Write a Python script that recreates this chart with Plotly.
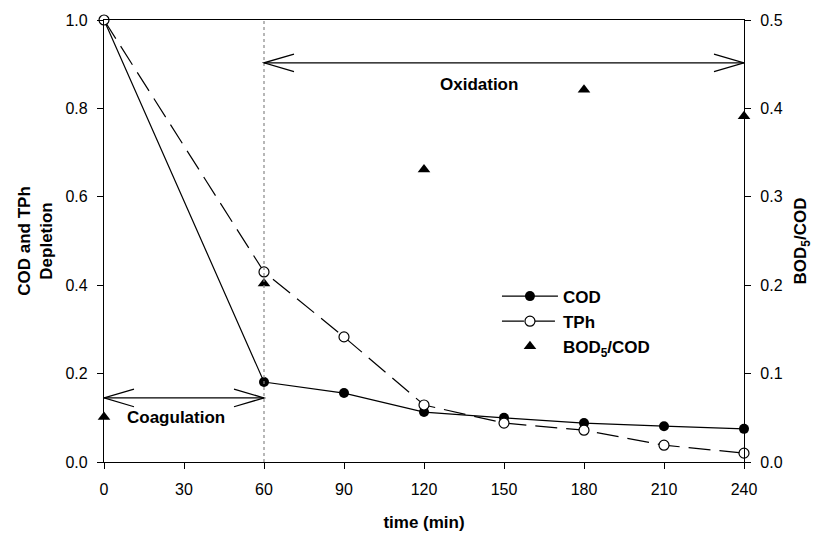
import plotly.graph_objects as go

time_min = [0, 60, 90, 120, 150, 180, 210, 240]
cod = [1.0, 0.181, 0.156, 0.113, 0.100, 0.088, 0.081, 0.075]
tph = [1.0, 0.430, 0.283, 0.129, 0.088, 0.072, 0.038, 0.020]
bod_time = [0, 60, 120, 180, 240]
bod_cod = [0.051, 0.202, 0.331, 0.421, 0.391]

x_ticks = [0, 30, 60, 90, 120, 150, 180, 210, 240]
y_ticks = [0.0, 0.2, 0.4, 0.6, 0.8, 1.0]
y2_ticks = [0.0, 0.1, 0.2, 0.3, 0.4, 0.5]

phase_boundary = 60
coag_span = [0, 60]
coag_level = 0.145
oxid_span = [60, 240]
oxid_level = 0.903

FONT = "Liberation Sans, Arial, sans-serif"
TICK_SIZE = 16
BOLD_SIZE = 17

fig = go.Figure()
fig.add_trace(go.Scatter(
    x=time_min, y=cod, name="<b>COD</b>", mode="lines+markers",
    line=dict(color="black", width=1.2),
    marker=dict(symbol="circle", size=10, color="black"),
    cliponaxis=False))
fig.add_trace(go.Scatter(
    x=time_min, y=tph, name="<b>TPh</b>", mode="lines+markers",
    line=dict(color="black", width=1.2, dash="22px,9px"),
    marker=dict(symbol="circle", size=10, color="white",
                line=dict(color="black", width=1.2)),
    cliponaxis=False))
fig.add_trace(go.Scatter(
    x=bod_time, y=bod_cod, name="<b>BOD<sub>5</sub>/COD</b>", mode="markers",
    marker=dict(symbol="triangle-up", size=11, color="black"),
    yaxis="y2", cliponaxis=False))

shapes = [dict(type="line", xref="x", yref="y", x0=phase_boundary, x1=phase_boundary,
               y0=0, y1=1, line=dict(color="#888888", width=1.2, dash="dot"))]

head_dx = 11.25  # minutes (about 30 px)
head_dy = 0.02


def double_arrow(span, level):
    a, b = span
    style = dict(color="black", width=1.3)
    return [
        dict(type="line", xref="x", yref="y", x0=a, x1=b, y0=level, y1=level, line=style),
        dict(type="path", xref="x", yref="y",
             path=f"M{a + head_dx},{level + head_dy} L{a},{level} L{a + head_dx},{level - head_dy}",
             line=style),
        dict(type="path", xref="x", yref="y",
             path=f"M{b - head_dx},{level + head_dy} L{b},{level} L{b - head_dx},{level - head_dy}",
             line=style),
    ]


shapes += double_arrow(coag_span, coag_level)
shapes += double_arrow(oxid_span, oxid_level)

annotations = [
    dict(x=27, y=0.10, xref="x", yref="y", text="<b>Coagulation</b>", showarrow=False,
         font=dict(family=FONT, size=BOLD_SIZE, color="black")),
    dict(x=140.5, y=0.855, xref="x", yref="y", text="<b>Oxidation</b>", showarrow=False,
         font=dict(family=FONT, size=BOLD_SIZE, color="black")),
]

axis_common = dict(showline=True, linecolor="black", linewidth=1.2, ticks="outside",
                   ticklen=6, tickwidth=1.2, tickcolor="black", showgrid=False,
                   zeroline=False, automargin=False,
                   tickfont=dict(family=FONT, size=TICK_SIZE, color="black"))

fig.update_layout(
    width=813, height=535,
    margin=dict(l=104, r=69, t=20, b=73),
    paper_bgcolor="white", plot_bgcolor="white",
    font=dict(family=FONT, color="black"),
    shapes=shapes, annotations=annotations,
    showlegend=True,
    legend=dict(x=0.614, y=0.415, xanchor="left", yanchor="top",
                bgcolor="rgba(0,0,0,0)", font=dict(family=FONT, size=BOLD_SIZE, color="black"),
                tracegroupgap=0, itemwidth=56),
    xaxis=dict(range=[0, 240], tickvals=x_ticks, mirror=True, ticklabelstandoff=7,
               title=dict(text="<b>time (min)</b>", font=dict(family=FONT, size=BOLD_SIZE), standoff=18),
               **axis_common),
    yaxis=dict(range=[0, 1.0], tickvals=y_ticks, tickformat=".1f", ticklabelstandoff=6,
               title=dict(text="<b>COD and TPh<br>Depletion</b>", font=dict(family=FONT, size=BOLD_SIZE), standoff=8),
               **axis_common),
    yaxis2=dict(range=[0, 0.5], tickvals=y2_ticks, tickformat=".1f", overlaying="y", side="right",
                ticklabelstandoff=6,
                title=dict(text="<b>BOD<sub>5</sub>/COD</b>", font=dict(family=FONT, size=BOLD_SIZE), standoff=13),
                **axis_common),
)

fig.write_html("out.html")
